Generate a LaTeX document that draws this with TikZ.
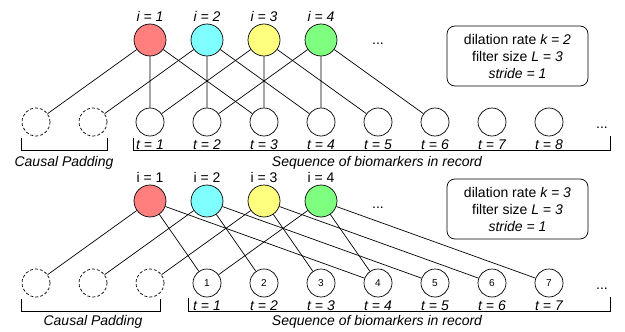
\documentclass[tikz,border=0pt]{standalone}
\usepackage{fontspec}
\setmainfont{Liberation Sans}
\usetikzlibrary{positioning}

\definecolor{hred}{HTML}{FF7F7F}
\definecolor{hcyan}{HTML}{7FFFFF}
\definecolor{hyellow}{HTML}{FFFF7F}
\definecolor{hgreen}{HTML}{7FFF7F}

\tikzset{
  unit/.style={circle, draw, line width=0.7pt, minimum size=28pt, inner sep=0pt, font=\fontsize{10}{12}\selectfont},
  padunit/.style={unit, dash pattern=on 3pt off 2pt},
  hidden/.style={circle, draw, line width=0.7pt, minimum size=32pt, inner sep=0pt},
  ilabel/.style={inner sep=0pt, label distance=1.5pt, font=\fontsize{14}{16}\selectfont},
  tlabel/.style={inner sep=0pt, label distance=3.5pt, font=\fontsize{14}{16}\selectfont\itshape},
  caption/.style={font=\fontsize{14}{16}\selectfont\itshape},
  infobox/.style={draw, line width=0.7pt, rounded corners=8pt, minimum width=141pt, minimum height=60pt,
    align=center, font=\fontsize{14}{17}\selectfont},
  link/.style={line width=0.7pt}
}

\begin{document}
\begin{tikzpicture}[x=1pt, y=-1pt]
  \useasboundingbox (0,0) rectangle (625,332);

  % Dilation rate k = 2
  % causal padding
  \node[padunit] (pa1) at (36,122) {};
  \node[padunit] (pa2) at (93,122) {};
  % input sequence
  \foreach \n in {1,...,8}
    \node[unit, label={[tlabel]below:t = \n}] (x\n) at ({150+57*(\n-1)},122) {};
  \node[anchor=base, font=\fontsize{14}{16}\selectfont] (dotsx) at (602,128) {...};

  % output units
  \node[hidden, fill=hred, label={[ilabel]above:\itshape i = 1}] (h1) at (150,40) {};
  \node[hidden, fill=hcyan, label={[ilabel]above:\itshape i = 2}] (h2) at (207,40) {};
  \node[hidden, fill=hyellow, label={[ilabel]above:\itshape i = 3}] (h3) at (264,40) {};
  \node[hidden, fill=hgreen, label={[ilabel]above:\itshape i = 4}] (h4) at (321,40) {};
  \node[anchor=base, font=\fontsize{14}{16}\selectfont] (dotsh) at (378,44) {...};

  % connections
  \draw[link] (h1) -- (pa1) (h1) -- (x1) (h1) -- (x3);
  \draw[link] (h2) -- (pa2) (h2) -- (x2) (h2) -- (x4);
  \draw[link] (h3) -- (x1) (h3) -- (x3) (h3) -- (x5);
  \draw[link] (h4) -- (x2) (h4) -- (x4) (h4) -- (x6);

  % settings
  \node[infobox] (boxa) at (517.5,56) {dilation rate \textit{k = 2}\\filter size \textit{L = 3}\\\textit{stride = 1}};

  % brackets
  \draw[link] (21,138) -- (21,150) -- (107,150) -- (107,138);
  \draw[link] (133,138) -- (133,150) -- (610,150) -- (610,136);
  \node[caption] (capa1) at (64,163) {Causal Padding};
  \node[caption] (capa2) at (377,163) {Sequence of biomarkers in record};

  % Dilation rate k = 3
  % causal padding
  \node[padunit] (pb1) at (36,283) {};
  \node[padunit] (pb2) at (93,283) {};
  \node[padunit] (pb3) at (150,283) {};
  % input sequence
  \foreach \n in {1,...,7}
    \node[unit, label={[tlabel]below:t = \n}] (y\n) at ({207+57*(\n-1)},283) {\n};
  \node[anchor=base, font=\fontsize{14}{16}\selectfont] (dotsy) at (602,289) {...};

  % output units
  \node[hidden, fill=hred, label={[ilabel]above:i = 1}] (g1) at (150,201) {};
  \node[hidden, fill=hcyan, label={[ilabel]above:i = 2}] (g2) at (207,201) {};
  \node[hidden, fill=hyellow, label={[ilabel]above:i = 3}] (g3) at (264,201) {};
  \node[hidden, fill=hgreen, label={[ilabel]above:i = 4}] (g4) at (321,201) {};
  \node[anchor=base, font=\fontsize{14}{16}\selectfont] (dotsg) at (378,208) {...};

  % connections
  \draw[link] (g1) -- (pb1) (g1) -- (y1) (g1) -- (y4);
  \draw[link] (g2) -- (pb2) (g2) -- (y2) (g2) -- (y5);
  \draw[link] (g3) -- (pb3) (g3) -- (y3) (g3) -- (y6);
  \draw[link] (g4) -- (y1) (g4) -- (y4) (g4) -- (y7);

  % settings
  \node[infobox] (boxb) at (517.5,209) {dilation rate \textit{k = 3}\\filter size \textit{L = 3}\\\textit{stride = 1}};

  % brackets
  \draw[link] (21,299) -- (21,311) -- (160,311) -- (160,299);
  \draw[link] (188,298) -- (188,311) -- (610,311) -- (610,297);
  \node[caption] (capb1) at (93,322) {Causal Padding};
  \node[caption] (capb2) at (377,322) {Sequence of biomarkers in record};
\end{tikzpicture}
\end{document}
